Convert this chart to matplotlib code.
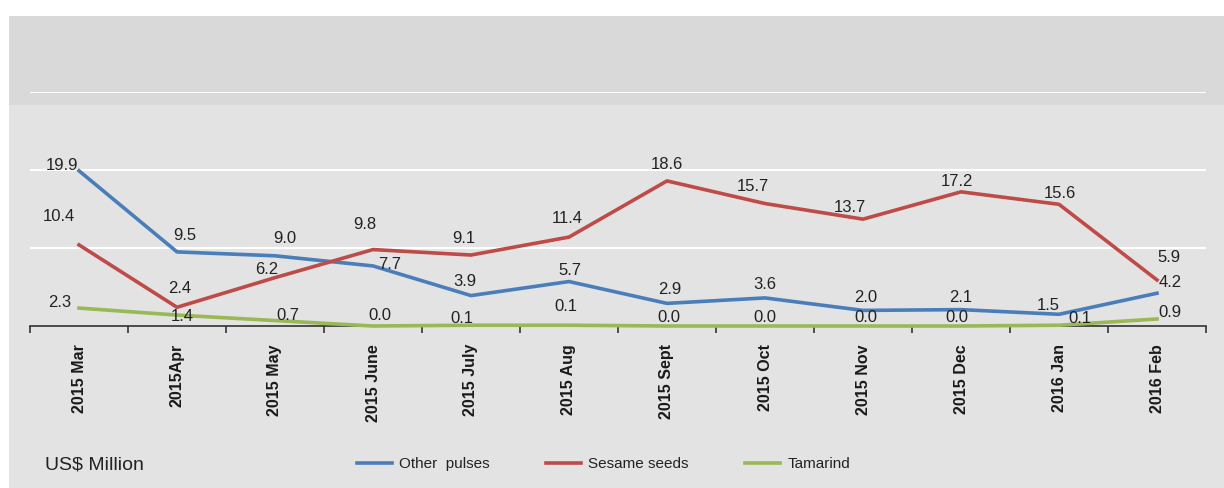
import matplotlib
matplotlib.use("Agg")
import matplotlib.pyplot as plt
from matplotlib.patches import Rectangle

plt.rcParams['font.family'] = ['Liberation Sans', 'DejaVu Sans']

months = ["2015 Mar", "2015Apr", "2015 May", "2015 June", "2015 July", "2015 Aug",
          "2015 Sept", "2015 Oct", "2015 Nov", "2015 Dec", "2016 Jan", "2016 Feb"]
other_pulses = [19.9, 9.5, 9.0, 7.7, 3.9, 5.7, 2.9, 3.6, 2.0, 2.1, 1.5, 4.2]
sesame_seeds = [10.4, 2.4, 6.2, 9.8, 9.1, 11.4, 18.6, 15.7, 13.7, 17.2, 15.6, 5.9]
tamarind = [2.3, 1.4, 0.7, 0.0, 0.1, 0.1, 0.0, 0.0, 0.0, 0.0, 0.1, 0.9]
series_names = ["Other  pulses", "Sesame seeds", "Tamarind"]
unit_label = "US$ Million"

# label offsets in pixels (dx, dy) - layout only
off_blue = [(-17, 5), (8, 16), (10, 17), (17, 1), (-6, 14), (1, 11),
            (3, 14), (0, 13), (3, 13), (0, 12), (-11, 9), (13, 11)]
off_red = [(-20, 28), (3, 19), (-8, 8), (-8, 25), (-7, 17), (-2, 19),
           (0, 16), (-12, 17), (-13, 12), (-4, 10), (1, 11), (12, 22)]
off_green = [(-19, 6), (5, -1), (13, 5), (7, 11), (-9, 7), (-3, 19),
             (2, 8), (0, 8), (3, 8), (-4, 8), (21, 7), (13, 6)]

colors = ["#4a7ebb", "#be4b48", "#98b954"]

W, H = 1224, 488
fig = plt.figure(figsize=(W / 100, H / 100), dpi=100)
fig.patch.set_facecolor("white")
fig.patches.append(Rectangle((9 / W, 0), 1 - 9 / W, 1 - 105 / H, transform=fig.transFigure,
                             facecolor="#e3e3e3", edgecolor="none", zorder=-10))
fig.patches.append(Rectangle((9 / W, 1 - 105 / H), 1 - 9 / W, (105 - 16) / H, transform=fig.transFigure,
                             facecolor="#d9d9d9", edgecolor="none", zorder=-10))

ax = fig.add_axes([30 / W, 1 - 326 / H, 1176 / W, (326 - 92) / H])
ax.set_zorder(5)
ax.set_facecolor("none")
x = list(range(len(months)))
ax.set_xlim(-0.5, len(months) - 0.5)
ax.set_ylim(0, 30)

ax.set_yticks([10, 20, 30])
ax.yaxis.grid(True, color="white", linewidth=1.5)
ax.set_axisbelow(True)
ax.tick_params(axis="y", length=0, labelleft=False)

for s in ["top", "right", "left"]:
    ax.spines[s].set_visible(False)
ax.spines["bottom"].set_color("#333333")
ax.spines["bottom"].set_linewidth(1.2)

ax.set_xticks(x)
ax.set_xticklabels(months, rotation=90, fontsize=11.5, fontweight="bold", color="#1a1a1a", va="top")
ax.set_xticks([i - 0.5 for i in range(len(months) + 1)], minor=True)
ax.tick_params(axis="x", which="major", length=0, pad=13)
ax.tick_params(axis="x", which="minor", length=5, width=1.2, color="#333333", direction="out")

handles = []
for vals, col, name, offs in zip([other_pulses, sesame_seeds, tamarind], colors, series_names,
                                 [off_blue, off_red, off_green]):
    ln, = ax.plot(x, vals, color=col, linewidth=2.6, label=name, solid_joinstyle="round", zorder=3,
                  clip_on=False)
    handles.append(ln)
    for xi, v, (dx, dy) in zip(x, vals, offs):
        ax.annotate(f"{v:.1f}", (xi, v), xytext=(dx, dy), textcoords="offset pixels",
                    ha="center", va="center", fontsize=12, color="#222222", zorder=4)

fig.text(45 / W, 1 - 465 / H, unit_label, fontsize=14, color="#222222", ha="left", va="center")
fig.legend(handles=handles, labels=series_names, loc="center left",
           bbox_to_anchor=(357 / W, 1 - 464 / H), ncol=3, frameon=False, fontsize=11,
           handlelength=2.3, handletextpad=0.45, columnspacing=3.7, borderpad=0, borderaxespad=0,
           labelcolor="#222222")

fig.savefig("out.png", dpi=100, facecolor=fig.get_facecolor())
